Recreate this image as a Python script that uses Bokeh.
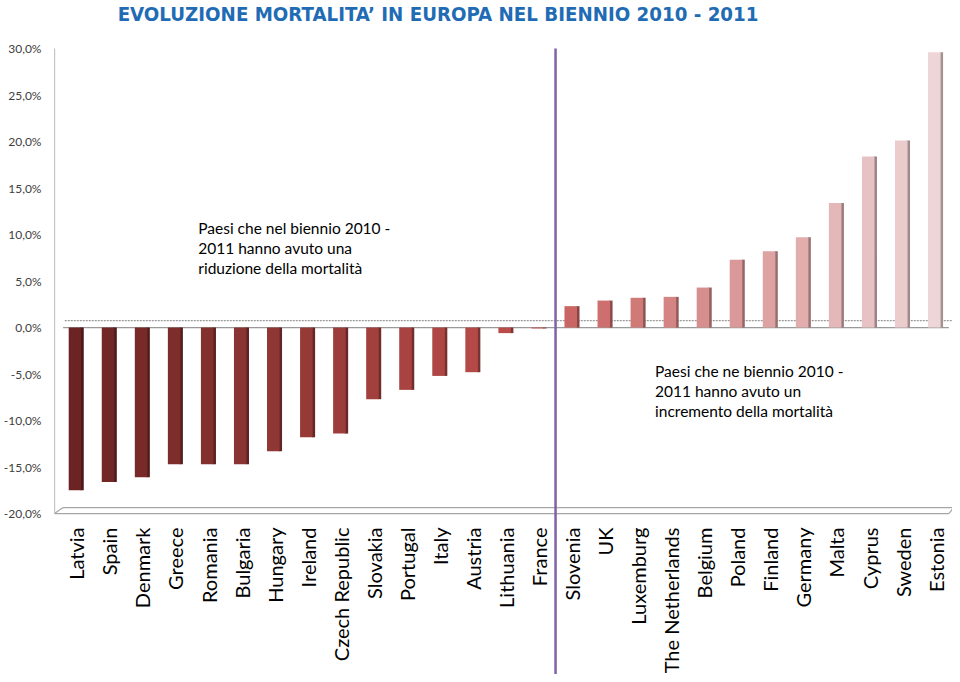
import math
from bokeh.plotting import figure
from bokeh.models import Range1d, FixedTicker, CustomJSTickFormatter, ColumnDataSource
from bokeh.transform import dodge
from bokeh.core.properties import value
from bokeh.embed import file_html
from bokeh.resources import INLINE

# ---------------- data ----------------
countries = ["Latvia", "Spain", "Denmark", "Greece", "Romania", "Bulgaria", "Hungary",
             "Ireland", "Czech Republic", "Slovakia", "Portugal", "Italy", "Austria",
             "Lithuania", "France", "Slovenia", "UK", "Luxemburg", "The Netherlands",
             "Belgium", "Poland", "Finland", "Germany", "Malta", "Cyprus", "Sweden", "Estonia"]
mortality_change = [-17.5, -16.6, -16.1, -14.7, -14.7, -14.7, -13.3,
                    -11.8, -11.4, -7.7, -6.7, -5.2, -4.8,
                    -0.6, -0.1, 2.3, 2.9, 3.2, 3.3,
                    4.3, 7.3, 8.2, 9.7, 13.4, 18.4, 20.1, 29.6]
y_ticks = [-20, -15, -10, -5, 0, 5, 10, 15, 20, 25, 30]
title_text = "EVOLUZIONE MORTALITA\u2019 IN EUROPA NEL BIENNIO 2010 - 2011"
note_reduction = "Paesi che nel biennio 2010 -\n2011 hanno avuto una\nriduzione della mortalit\u00e0"
note_increase = "Paesi che ne biennio 2010 -\n2011 hanno avuto un\nincremento della mortalit\u00e0"

# ---------------- styles ----------------
def hex2rgb(h):
    h = h.lstrip("#")
    return tuple(int(h[i:i + 2], 16) for i in (0, 2, 4))

def rgb2hex(c):
    return "#%02x%02x%02x" % tuple(max(0, min(255, int(round(v)))) for v in c)

def ramp(c0, c1, k):
    a, b = hex2rgb(c0), hex2rgb(c1)
    if k == 1:
        return [rgb2hex(a)]
    return [rgb2hex([a[j] + (b[j] - a[j]) * i / (k - 1) for j in range(3)]) for i in range(k)]

n = len(countries)
n_neg = sum(1 for v in mortality_change if v < 0)
face_colors = ramp("#6b2423", "#c0504d", n_neg) + ramp("#c96563", "#eed6d8", n - n_neg)
side_colors = [rgb2hex([v * 0.68 for v in hex2rgb(c)]) for c in face_colors]

FONT = "Lato"
x_start, x_end = -0.66, n - 0.49
Y_LO, Y_HI = -37.3, 35.16
src = ColumnDataSource(dict(x=list(range(n)), top=mortality_change, country=countries,
                            face=face_colors, side=side_colors))

p = figure(width=952, height=674, x_range=Range1d(x_start, x_end), y_range=Range1d(Y_LO, Y_HI),
           output_backend="svg", toolbar_location=None, x_axis_type=None,
           min_border_left=40, min_border_right=0, min_border_top=0, min_border_bottom=0,
           outline_line_color=None, background_fill_color="white", border_fill_color="white")

p.xgrid.visible = False
p.ygrid.visible = False
ax = p.yaxis[0]
ax.ticker = FixedTicker(ticks=y_ticks)
ax.formatter = CustomJSTickFormatter(code="return tick.toFixed(1).replace('.', ',') + '%';")
ax.axis_line_color = None
ax.major_tick_line_color = None
ax.minor_tick_line_color = None
ax.major_label_text_font = FONT
ax.major_label_text_font_size = "12px"
ax.major_label_text_color = "#404040"
ax.major_label_standoff = 7

y_min, y_max = min(y_ticks), max(y_ticks)
x_floor_end = n - 0.6
x_back_end = n - 0.45
# axis line and 3D floor / zero walls
p.segment(x0=[x_start], y0=[y_min], x1=[x_start], y1=[y_max], line_color="#8c8c8c", line_width=1.2)
p.segment(x0=[x_start], y0=[y_min], x1=[x_floor_end], y1=[y_min], line_color="#a6a6a6", line_width=1.2)
p.line(x=[x_start, -0.4, x_back_end, x_floor_end], y=[y_min, y_min + 0.65, y_min + 0.65, y_min],
       line_color="#a6a6a6", line_width=1.2)
p.segment(x0=[-0.35], y0=[0.75], x1=[x_end], y1=[0.75], line_color="#9a9a9a",
          line_width=1.2, line_dash="2 1")
p.segment(x0=[-0.4], y0=[0], x1=[x_floor_end], y1=[0], line_color="#9a9a9a", line_width=1.3)

# bars (front face + darker side face)
p.vbar(x=dodge("x", 0.175, range=p.x_range), width=0.1, top="top", bottom=0,
       fill_color="side", line_color=None, source=src)
p.vbar(x=dodge("x", -0.04, range=p.x_range), width=0.38, top="top", bottom=0,
       fill_color="face", line_color=None, source=src)

# divider (from the top of the value axis down through the labels)
p.segment(x0=[n_neg - 0.5], y0=[y_max], x1=[n_neg - 0.5], y1=[Y_LO],
          line_color="#7f63a8", line_width=2.5)

# category labels
p.text(x="x", y=-21.5, text="country", angle=math.pi / 2, text_align="right",
       text_baseline="middle", text_font=value(FONT), text_font_size="20px",
       text_color="black", source=src)

# title
p.text(x=[1.25], y=[33.75], text=[title_text], text_font=value("DejaVu Sans Condensed"),
       text_font_style="bold", text_font_size="20.3px", text_baseline="middle",
       text_align="left", text_color="#1f6cb5")

# notes
p.text(x=[3.69], y=[11.7], text=[note_reduction], text_font=value(FONT), text_font_size="15.5px",
       text_baseline="top", text_align="left", text_color="black", text_line_height=1.12)
p.text(x=[17.51], y=[-3.7], text=[note_increase], text_font=value(FONT), text_font_size="15.5px",
       text_baseline="top", text_align="left", text_color="black", text_line_height=1.12)

open("out.html", "w").write(file_html(p, INLINE))
